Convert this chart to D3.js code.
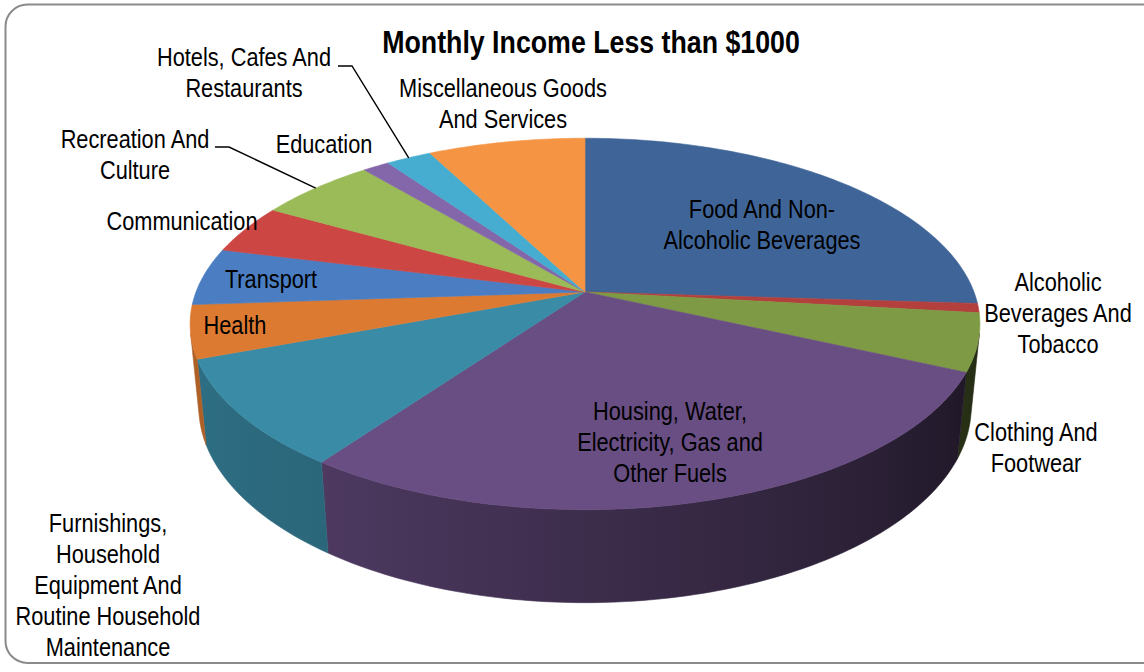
<!DOCTYPE html>
<html>
<head>
<meta charset="utf-8">
<script src="https://cdn.jsdelivr.net/npm/d3@7"></script>
<style>
  body { margin: 0; background: #fff; }
  svg { display: block; }
</style>
</head>
<body>
<svg id="chart" width="1144" height="672"></svg>
<script>
// ---- data ----
const title = "Monthly Income Less than $1000";

const categories = [
  "Food And Non-Alcoholic Beverages",
  "Alcoholic Beverages And Tobacco",
  "Clothing And Footwear",
  "Housing, Water, Electricity, Gas and Other Fuels",
  "Furnishings, Household Equipment And Routine Household Maintenance",
  "Health",
  "Transport",
  "Communication",
  "Recreation And Culture",
  "Education",
  "Hotels, Cafes And Restaurants",
  "Miscellaneous Goods And Services"
];

// share of monthly expenditure, %
const shares = [26.0, 0.8, 5.0, 28.1, 9.4, 4.6, 5.0, 4.3, 5.7, 1.3, 2.2, 7.6];

// label text, broken into lines
const labelLines = [
  ["Food And Non-", "Alcoholic Beverages"],
  ["Alcoholic", "Beverages And", "Tobacco"],
  ["Clothing And", "Footwear"],
  ["Housing, Water,", "Electricity, Gas and", "Other Fuels"],
  ["Furnishings,", "Household", "Equipment And", "Routine Household", "Maintenance"],
  ["Health"],
  ["Transport"],
  ["Communication"],
  ["Recreation And", "Culture"],
  ["Education"],
  ["Hotels, Cafes And", "Restaurants"],
  ["Miscellaneous Goods", "And Services"]
];

// ---- styling ----
const sliceColors = [
  "#3f6598", "#b3403d", "#7e9a45", "#694e83", "#3a8ba6", "#dd7a32",
  "#4a7dc2", "#cc4644", "#9abb58", "#8466aa", "#46add0", "#f59443"
];

// label anchor (centre of first line) and optional leader elbow
const labelLayout = [
  { x: 762, y: 210 },
  { x: 1058, y: 283 },
  { x: 1036, y: 433 },
  { x: 670, y: 412 },
  { x: 108, y: 524 },
  { x: 235, y: 326 },
  { x: 271, y: 280 },
  { x: 182, y: 222 },
  { x: 135, y: 140, leader: [[215, 147], [229, 147]] },
  { x: 324, y: 145 },
  { x: 244, y: 58, leader: [[338, 66], [352, 66]] },
  { x: 503, y: 89 }
];

const W = 1144, H = 672;
const svg = d3.select("#chart");
const labelFont = "'Liberation Sans', Arial, sans-serif";
const narrow = 0.87;       // condensed look for data labels
const titleNarrow = 0.836; // condensed look for the title

// frame
svg.append("rect")
  .attr("x", 5.5).attr("y", 4.5)
  .attr("width", 1170).attr("height", 658.5)
  .attr("rx", 22).attr("ry", 22)
  .attr("fill", "#fff")
  .attr("stroke", "#8a8a8a")
  .attr("stroke-width", 2);

// ---- 3D pie projection ----
// pie lies in a horizontal plane, viewed from above-front with perspective
const tilt = 27.6 * Math.PI / 180;
const sT = Math.sin(tilt), cT = Math.cos(tilt);
const focal = 2003, camDist = 5.149, thickness = 0.243;
const cx = 585, cy = 292;

// angle a: clockwise from 12 o'clock (far side); z: 0 top, -thickness bottom
function project(a, z) {
  const X = Math.sin(a), Y = Math.cos(a);
  const depth = camDist + Y * cT - z * sT;
  return [cx + focal * X / depth, cy - focal * (Y * sT + z * cT) / depth];
}

const pie = d3.pie().sort(null).value(d => d).startAngle(0).endAngle(2 * Math.PI);
const arcs = pie(shares);

// part of the rim facing the camera
const camHoriz = camDist * cT;
const silhouette = Math.acos(1 / camHoriz);
const visLo = Math.PI - silhouette, visHi = Math.PI + silhouette;

// side shading by rim angle (light from front-left)
const shade = d3.scaleLinear()
  .domain([103, 120, 150, 180, 215, 257].map(d => d * Math.PI / 180))
  .range([0.28, 0.32, 0.45, 0.58, 0.74, 0.8])
  .clamp(true);

function darken(col, k) {
  const c = d3.rgb(col);
  return d3.rgb(c.r * k, c.g * k, c.b * k).formatHex();
}

function sampleAngles(a0, a1) {
  const n = Math.max(2, Math.ceil((a1 - a0) / (Math.PI / 180)));
  return d3.range(n + 1).map(i => a0 + (a1 - a0) * i / n);
}

const defs = svg.append("defs");
const sides = svg.append("g").attr("class", "sides");
const tops = svg.append("g").attr("class", "tops");
const line = d3.line();

// side walls
arcs.forEach((d, i) => {
  const a0 = Math.max(d.startAngle, visLo), a1 = Math.min(d.endAngle, visHi);
  if (a1 <= a0) return;
  const angs = sampleAngles(a0, a1);
  const topPts = angs.map(a => project(a, 0));
  const botPts = angs.slice().reverse().map(a => project(a, -thickness));

  const xStart = topPts[0][0], xEnd = topPts[topPts.length - 1][0];
  const grad = defs.append("linearGradient")
    .attr("id", "side" + i)
    .attr("gradientUnits", "userSpaceOnUse")
    .attr("x1", xStart).attr("y1", 0)
    .attr("x2", xEnd).attr("y2", 0);
  const stopAngs = angs.filter((_, k, arr) => k % 4 === 0 || k === arr.length - 1);
  stopAngs.forEach(a => {
    const px = project(a, 0)[0];
    const off = xEnd === xStart ? 0 : (px - xStart) / (xEnd - xStart);
    grad.append("stop")
      .attr("offset", Math.max(0, Math.min(1, off)))
      .attr("stop-color", darken(sliceColors[i], shade(a)));
  });

  sides.append("path")
    .attr("d", line(topPts.concat(botPts)) + "Z")
    .attr("fill", `url(#side${i})`)
    .attr("stroke", `url(#side${i})`)
    .attr("stroke-width", 0.6);
});

// top faces: each slice is the apex plus its rim arc
arcs.forEach((d, i) => {
  const pts = [[cx, cy]]
    .concat(sampleAngles(d.startAngle, d.endAngle).map(a => project(a, 0)));
  tops.append("path")
    .attr("d", line(pts) + "Z")
    .attr("fill", sliceColors[i])
    .attr("stroke", sliceColors[i])
    .attr("stroke-width", 0.6)
    .attr("stroke-linejoin", "round");
});

// ---- labels ----
const lineGap = 30.8;
const fontSize = 25;
const labels = svg.append("g").attr("class", "labels")
  .attr("font-family", labelFont)
  .attr("font-size", fontSize)
  .attr("fill", "#000")
  .attr("text-anchor", "middle");

arcs.forEach((d, i) => {
  const L = labelLayout[i];
  const t = labels.append("text")
    .attr("transform", `translate(${L.x},0) scale(${narrow},1)`);
  labelLines[i].forEach((s, k) => {
    t.append("tspan")
      .attr("x", 0)
      .attr("y", L.y + k * lineGap + 8.5)
      .text(s);
  });
  if (L.leader) {
    const mid = (d.startAngle + d.endAngle) / 2;
    const end = project(mid, 0);
    svg.append("path")
      .attr("d", line(L.leader.concat([end])))
      .attr("fill", "none")
      .attr("stroke", "#000")
      .attr("stroke-width", 1.4);
  }
});

// title
svg.append("text")
  .attr("transform", `translate(591,0) scale(${titleNarrow},1)`)
  .attr("x", 0)
  .attr("y", 53.5)
  .attr("text-anchor", "middle")
  .attr("font-family", labelFont)
  .attr("font-weight", "bold")
  .attr("font-size", 32)
  .attr("fill", "#000")
  .text(title);
</script>
</body>
</html>
